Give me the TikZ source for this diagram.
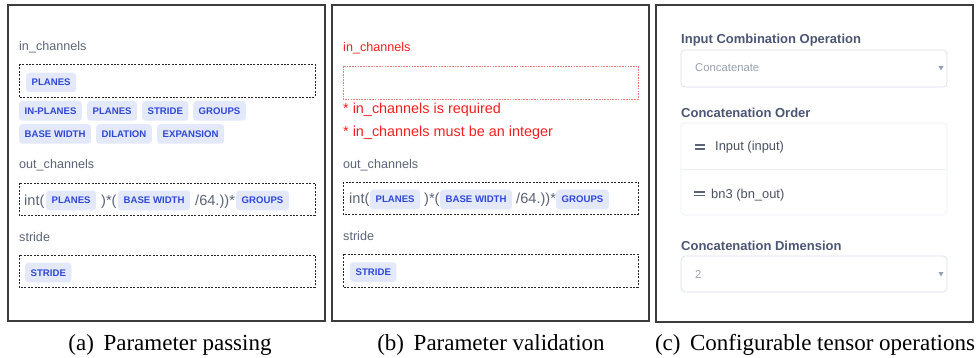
\documentclass[tikz,border=0pt]{standalone}
\usepackage{fontspec}
\setmainfont{Liberation Serif}
\newfontfamily\ui{Liberation Sans}
\definecolor{panelc}{HTML}{3C3C3C}
\definecolor{lblc}{HTML}{5B6477}
\definecolor{chipbg}{HTML}{E4E8FB}
\definecolor{chipfg}{HTML}{2E48D6}
\definecolor{errc}{HTML}{F51E1E}
\definecolor{errbox}{HTML}{F07A7A}
\definecolor{headc}{HTML}{4B5675}
\definecolor{selbd}{HTML}{D9DEE6}
\definecolor{listbd}{HTML}{ECEFF3}
\definecolor{greytxt}{HTML}{97A0B0}
\definecolor{itemc}{HTML}{4A5163}
\begin{document}
\begin{tikzpicture}[x=1pt,y=-1pt,
  panel/.style={draw=panelc, line width=1.3pt},
  lbl/.style={anchor=base west, inner sep=0pt, font=\ui\fontsize{12.6}{14}\selectfont, text=lblc},
  errtxt/.style={anchor=base west, inner sep=0pt, font=\ui\fontsize{14.4}{16}\selectfont, text=errc},
  expr/.style={anchor=base west, inner sep=0pt, font=\ui\fontsize{14.6}{16}\selectfont, text=lblc},
  chip/.style={anchor=west, fill=chipbg, rounded corners=3pt, text=chipfg,
     font=\ui\bfseries\fontsize{9.6}{11}\selectfont, inner xsep=5.5pt, inner ysep=0pt,
     text height=7pt, text depth=0pt, minimum height=19.5pt},
  fieldbox/.style={draw=black!85, dash pattern=on 2pt off 1.4pt, line width=0.8pt},
  errfield/.style={draw=errbox, dash pattern=on 1.6pt off 1.1pt, line width=0.9pt},
  head/.style={anchor=base west, inner sep=0pt, font=\ui\bfseries\fontsize{13}{15}\selectfont, text=headc},
  selbox/.style={draw=selbd, line width=0.7pt, rounded corners=4pt, fill=white},
  listbox/.style={draw=listbd, line width=0.7pt, rounded corners=4pt, fill=white},
  seltxt/.style={anchor=base west, inner sep=0pt, font=\ui\fontsize{11.3}{13}\selectfont, text=greytxt},
  itemtxt/.style={anchor=base west, inner sep=0pt, font=\ui\fontsize{12.9}{15}\selectfont, text=itemc},
  handle/.style={draw=lblc, line width=1.2pt},
  tri/.style={fill=greytxt, draw=none},
  captxt/.style={anchor=base, inner sep=0pt, font=\fontsize{23}{26}\selectfont, text=black}
]
\useasboundingbox (0,0) rectangle (979,358);

% ---------------- panel (a)
\draw[panel] (8,5) rectangle (325,321);
\node[lbl] (ainl) at (19,51) {in\_channels};
\draw[fieldbox] (19,64) rectangle (315,97);
\node[chip] (ain1) at (26,82.5) {PLANES};
\node[chip] (ac1) at (19,111) {IN-PLANES};
\node[chip] (ac2) at (87,111) {PLANES};
\node[chip] (ac3) at (142,111) {STRIDE};
\node[chip] (ac4) at (193,111) {GROUPS};
\node[chip] (ac5) at (19,134) {BASE WIDTH};
\node[chip] (ac6) at (96,134) {DILATION};
\node[chip] (ac7) at (157,134) {EXPANSION};
\node[lbl] (aoutl) at (19,169) {out\_channels};
\draw[fieldbox] (19,183) rectangle (315,215);
\node[expr] (ae1) at (24,205) {int(};
\node[chip] (ae2) at (46,200.5) {PLANES};
\node[expr] (ae3) at (101,205) {)*(};
\node[chip] (ae4) at (118,200.5) {BASE WIDTH};
\node[expr] (ae5) at (195,205) {/64.))*};
\node[chip] (ae6) at (236,200.5) {GROUPS};
\node[lbl] (astl) at (19,241) {stride};
\draw[fieldbox] (19,255) rectangle (315,287);
\node[chip] (ast) at (25,272.5) {STRIDE};

% ---------------- panel (b)
\draw[panel] (332,5) rectangle (649,321);
\node[lbl, text=errc] (binl) at (343,52) {in\_channels};
\draw[errfield] (343,66) rectangle (638,99);
\node[errtxt] (berr1) at (343,114) {* in\_channels is required};
\node[errtxt] (berr2) at (343,137) {* in\_channels must be an integer};
\node[lbl] (boutl) at (343,168) {out\_channels};
\draw[fieldbox] (343,182) rectangle (638,214);
\node[expr] (be1) at (349,204) {int(};
\node[chip] (be2) at (370,199.5) {PLANES};
\node[expr] (be3) at (424,204) {)*(};
\node[chip] (be4) at (440,199.5) {BASE WIDTH};
\node[expr] (be5) at (516,204) {/64.))*};
\node[chip] (be6) at (556,199.5) {GROUPS};
\node[lbl] (bstl) at (343,240) {stride};
\draw[fieldbox] (343,254) rectangle (638,287);
\node[chip] (bst) at (350,272) {STRIDE};

% ---------------- panel (c)
\draw[panel] (656,5) rectangle (973,322);
\node[head] (ch1) at (681,43.5) {Input Combination Operation};
\draw[selbox] (681,50) rectangle (947,87);
\node[seltxt] (cs1) at (695,72) {Concatenate};
\fill[tri] (938.5,66) -- (943.5,66) -- (941,70.5) -- cycle;
\node[head] (ch2) at (681,117.5) {Concatenation Order};
\draw[listbox] (681,123) rectangle (947,215);
\draw[draw=listbd, line width=0.7pt] (681,169) -- (947,169);
\draw[handle] (695,145) -- (705,145);
\draw[handle] (695,149) -- (705,149);
\node[itemtxt] (ci1) at (715,151) {Input (input)};
\draw[handle] (694,192) -- (705,192);
\draw[handle] (694,195.5) -- (705,195.5);
\node[itemtxt] (ci2) at (711,198) {bn3 (bn\_out)};
\node[head] (ch3) at (681,250) {Concatenation Dimension};
\draw[selbox] (681,256) rectangle (947,292);
\node[seltxt] (cs2) at (695,278) {2};
\fill[tri] (938.5,272) -- (943.5,272) -- (941,276.5) -- cycle;

% ---------------- captions
\node[captxt] (capa) at (170,350) {(a)\, Parameter passing};
\node[captxt] (capb) at (491,350) {(b)\, Parameter validation};
\node[captxt] (capc) at (815,350) {(c)\, Configurable tensor operations};
\end{tikzpicture}
\end{document}
